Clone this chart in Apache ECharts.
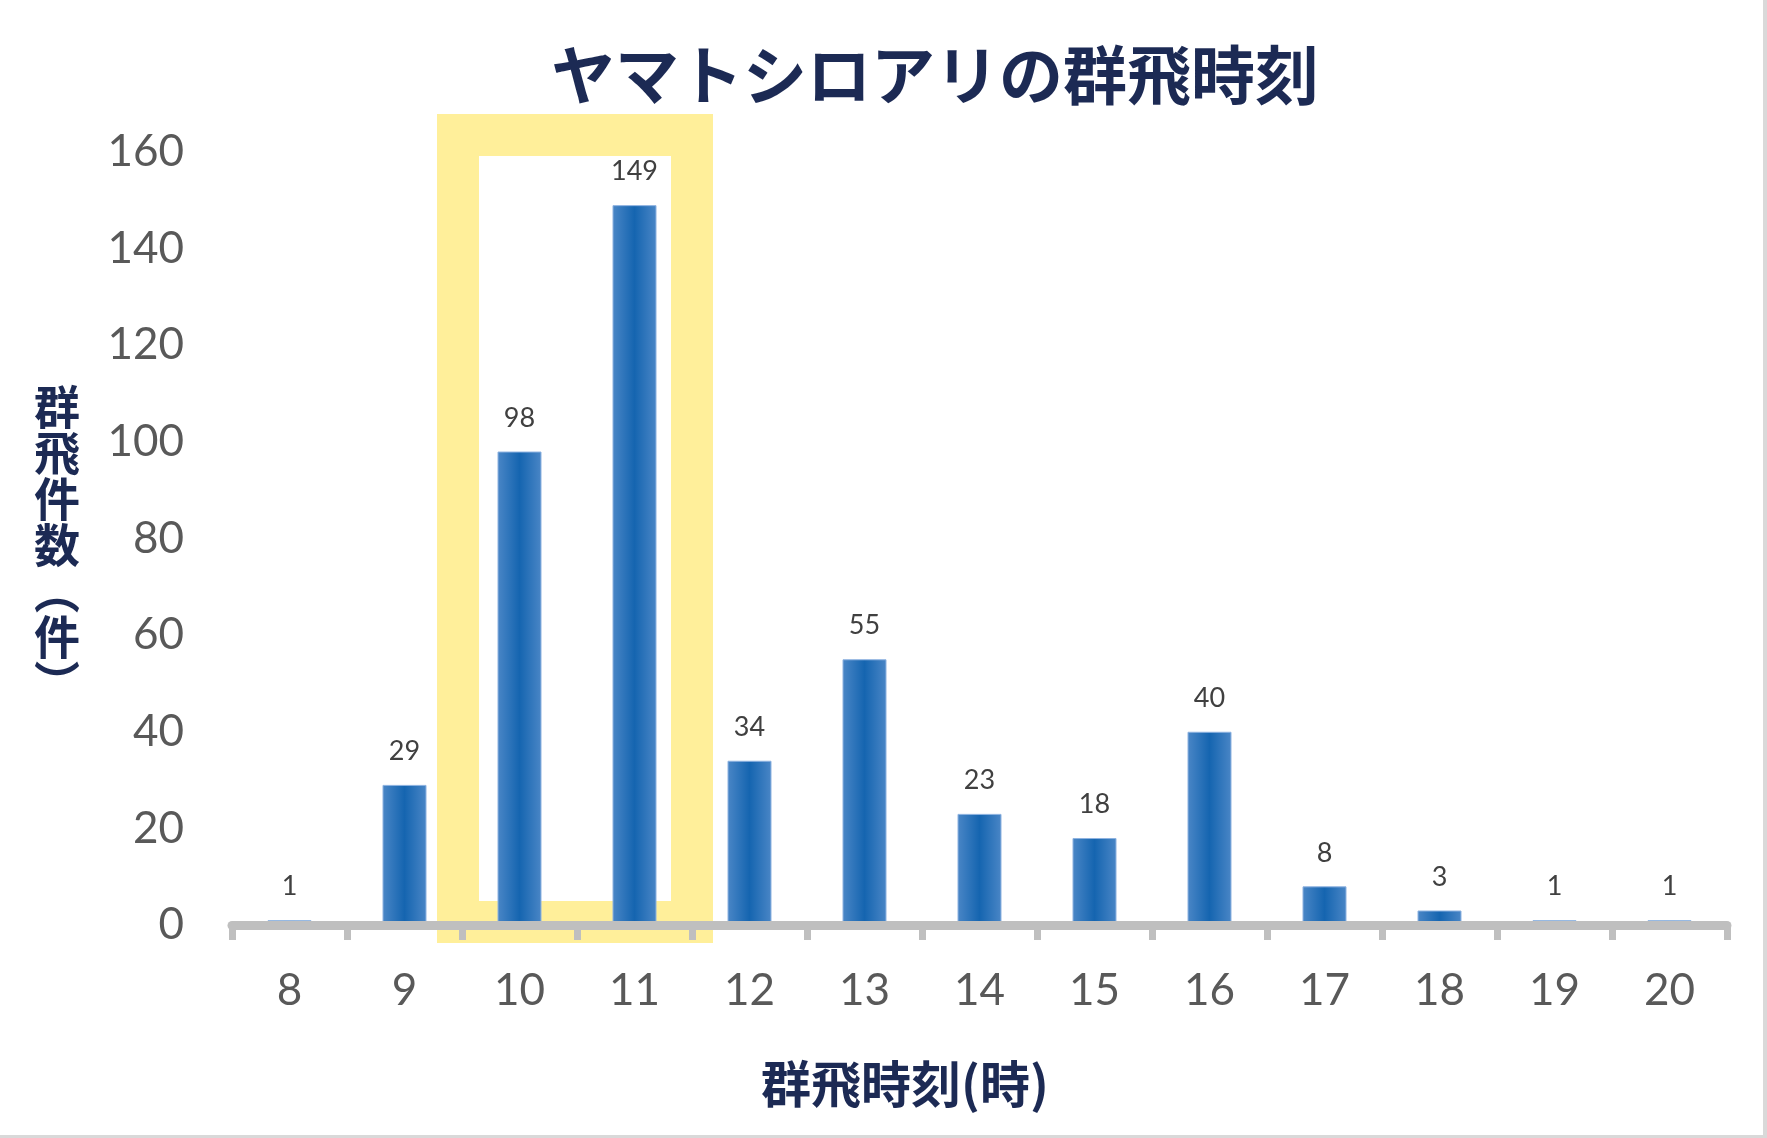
<!DOCTYPE html>
<html><head><meta charset="utf-8">
<script src="https://cdn.jsdelivr.net/npm/echarts@6/dist/echarts.min.js"></script>
<style>html,body{margin:0;padding:0;background:#fff}#c{width:1767px;height:1138px}</style>
</head><body><div id="c"></div>
<script>
const categories = ['8','9','10','11','12','13','14','15','16','17','18','19','20'];
const counts = [1, 29, 98, 149, 34, 55, 23, 18, 40, 8, 3, 1, 1];
const yMin = 0, yMax = 160, yInterval = 20;
const highlightCats = ['10', '11'];
const highlightTop = 163.5;
const titleText = 'ヤマトシロアリの群飛時刻';
const xName = '群飛時刻(時)';
const yNameChars = ['群','飛','件','数','︵','件','︶'];

const navy = '#1c2a54';
const chart = echarts.init(document.getElementById('c'), null, {renderer: 'canvas'});
const barGrad = new echarts.graphic.LinearGradient(0, 0, 1, 0, [
  {offset: 0, color: '#4a86c6'},
  {offset: 0.5, color: '#1565b0'},
  {offset: 1, color: '#4a86c6'}
]);
chart.setOption({
  backgroundColor: '#fff',
  animation: false,
  grid: {left: 232, right: 40, top: 152, bottom: 213, containLabel: false},
  xAxis: {
    type: 'category', data: categories, z: 10,
    axisLine: {lineStyle: {color: '#bfbfbf', width: 9}},
    axisTick: {show: true, length: 15, lineStyle: {color: '#bfbfbf', width: 7}},
    axisLabel: {fontFamily: 'Lato', fontSize: 44, color: '#595959', margin: 44}
  },
  yAxis: {
    type: 'value', min: yMin, max: yMax, interval: yInterval,
    axisLine: {show: false}, axisTick: {show: false}, splitLine: {show: false},
    axisLabel: {fontFamily: 'Lato', fontSize: 44, color: '#595959', margin: 48}
  },
  series: [{
    type: 'bar', data: counts, barWidth: 44, z: 2,
    itemStyle: {color: barGrad, borderColor: '#8db2e0', borderWidth: 1},
    label: {show: true, position: 'top', distance: 20, fontFamily: 'Lato', fontSize: 27, color: '#404040'}
  }]
});

const xa = chart.convertToPixel({xAxisIndex: 0}, highlightCats[0]);
const xb = chart.convertToPixel({xAxisIndex: 0}, highlightCats[1]);
const band = xb - xa;
const left = xa - band / 2 - 4;
const right = xb + band / 2;
const yTop = chart.convertToPixel({yAxisIndex: 0}, highlightTop);
const yBot = chart.convertToPixel({yAxisIndex: 0}, 0) - 3;

chart.setOption({
  graphic: [
    {type: 'rect', z: 1, silent: true,
     shape: {x: left, y: yTop, width: right - left, height: yBot - yTop},
     style: {fill: 'none', stroke: '#ffef9a', lineWidth: 42}},
    {type: 'text', z: 20, x: 935, y: 75,
     style: {text: titleText, fontFamily: '"Noto Sans CJK JP"', fontWeight: 'bold', fontSize: 64,
             fill: navy, textAlign: 'center', textVerticalAlign: 'middle'}},
    {type: 'text', z: 20, x: 905, y: 1084,
     style: {text: xName, fontFamily: '"Noto Sans CJK JP"', fontWeight: 'bold', fontSize: 50,
             fill: navy, textAlign: 'center', textVerticalAlign: 'middle'}},
    {type: 'text', z: 20, x: 57, y: 545,
     style: {text: yNameChars.join('\n'), fontFamily: '"Noto Sans CJK JP"', fontWeight: 'bold', fontSize: 46,
             lineHeight: 46, fill: navy, textAlign: 'center', textVerticalAlign: 'middle'}},
    {type: 'rect', z: 20, silent: true, shape: {x: 1763, y: 0, width: 4, height: 1138}, style: {fill: '#d9d9d9'}},
    {type: 'rect', z: 20, silent: true, shape: {x: 0, y: 1135, width: 1767, height: 3}, style: {fill: '#d9d9d9'}}
  ]
});
</script></body></html>
